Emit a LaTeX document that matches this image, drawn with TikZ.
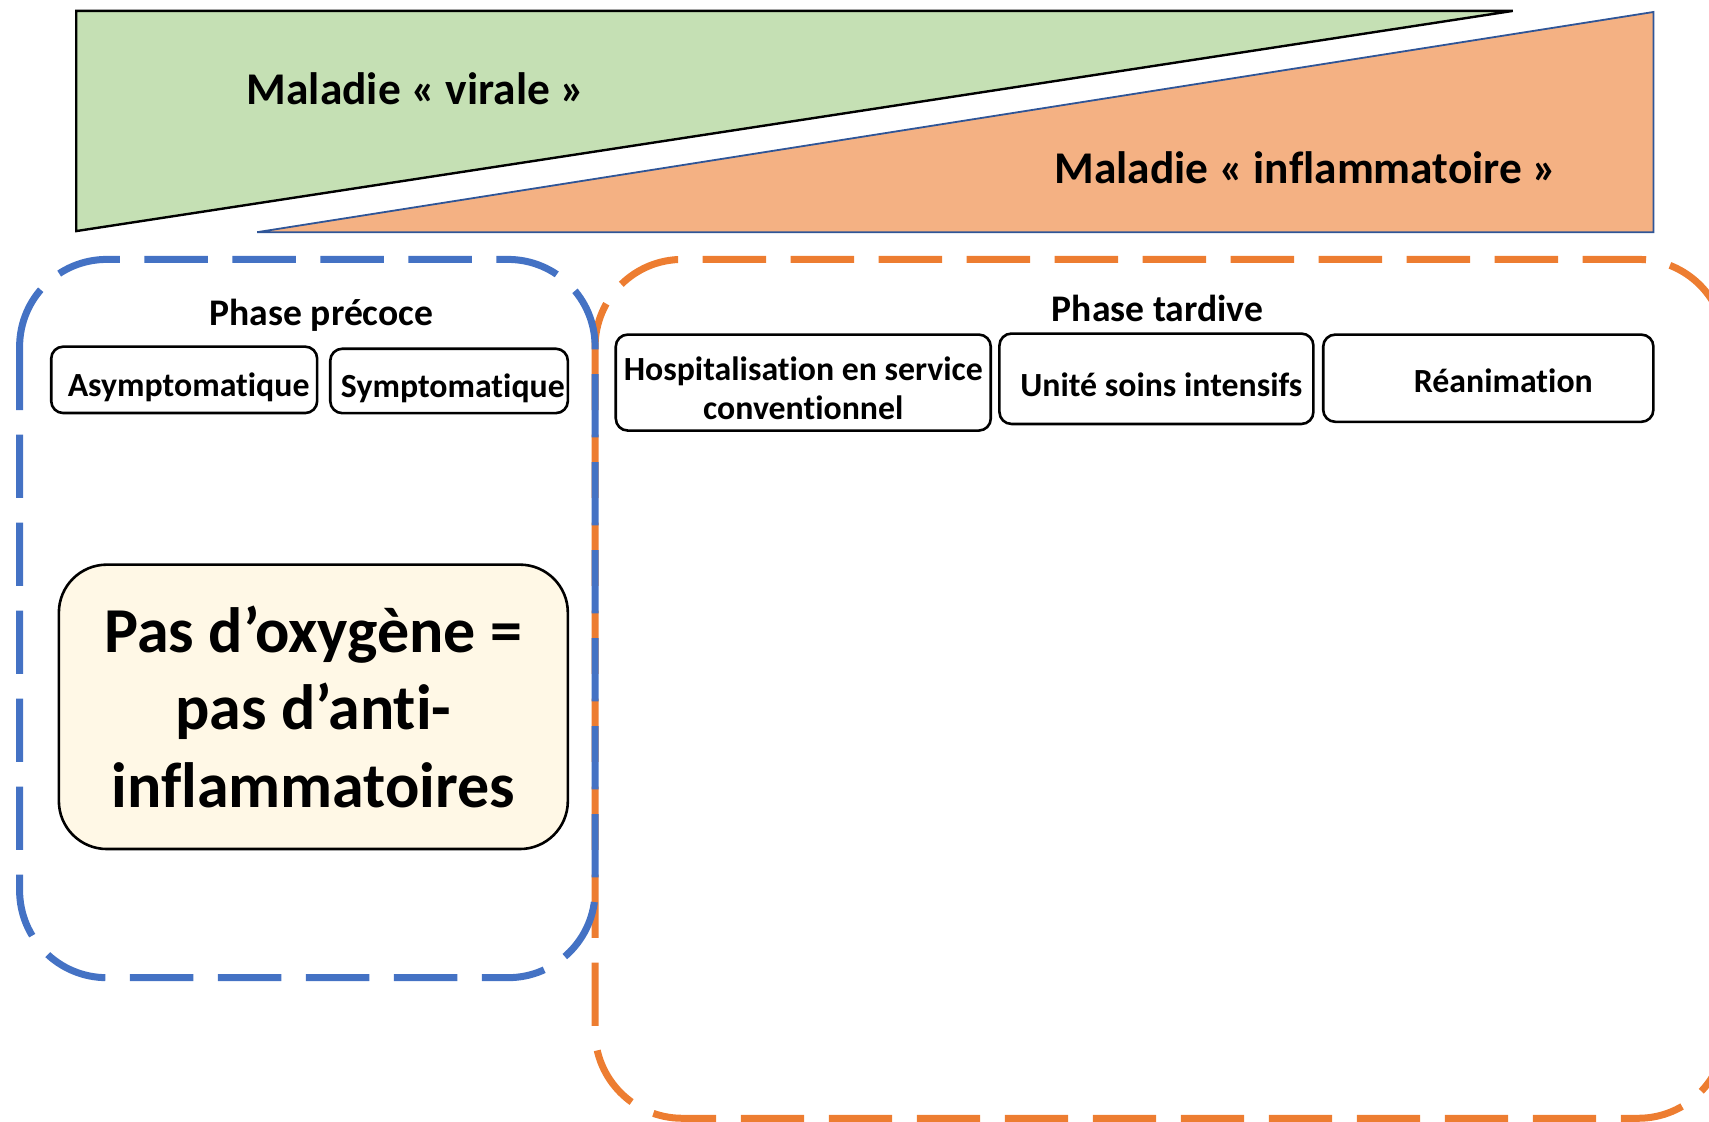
\documentclass[tikz,border=0pt]{standalone}
\usepackage{fontspec}
\setmainfont{Carlito}[Ligatures=NoCommon]
\definecolor{greenfill}{HTML}{C5E0B4}
\definecolor{orangefill}{HTML}{F4B183}
\definecolor{darkblue}{HTML}{2F5597}
\definecolor{dashblue}{HTML}{4472C4}
\definecolor{dashorange}{HTML}{ED7D31}
\definecolor{cream}{HTML}{FFF8E6}
\begin{document}
\begin{tikzpicture}[x=0.545pt,y=-0.545pt,
  title/.style={font=\fontsize{22.7}{27}\selectfont\bfseries, inner sep=0pt},
  phase/.style={font=\fontsize{18.8}{22}\selectfont\bfseries, inner sep=0pt},
  stagebox/.style={draw=black, line width=1.3pt, rounded corners=6pt, fill=white,
    inner sep=0pt, text height=17.5pt, text depth=3.5pt,
    font=\fontsize{16.9}{19.6}\selectfont\bfseries},
  bigbox/.style={draw=black, line width=1.3pt, rounded corners=24pt, fill=cream,
    align=center, inner sep=0pt, minimum width=254.5pt, minimum height=142.2pt,
    font=\fontsize{32}{38.7}\selectfont\bfseries},
  phasezone/.style={line width=3.5pt, dash pattern=on 31.7pt off 12.3pt, rounded corners=43.6pt}
]
\useasboundingbox (0,0) rectangle (1568,1029);
\clip (0,0) rectangle (1568,1029);

% wedges
\draw[fill=greenfill, draw=black, line width=1.2pt] (70,10) -- (1388,10) -- (70,212) -- cycle;
\draw[fill=orangefill, draw=darkblue, line width=0.9pt] (236,213) -- (1517,11) -- (1517,213) -- cycle;
\node[title] (viral) at (381.5,81) {Maladie «~virale~»};
\node[title] (inflam) at (1198,154) {Maladie «~inflammatoire~»};

% phase zones
\draw[phasezone, draw=dashorange] (546,238) rectangle (1583,1026);
\draw[phasezone, draw=dashblue] (18,238) rectangle (546,897);

\node[phase] (early) at (295,289) {Phase précoce};
\node[phase] (late) at (1062,283) {Phase tardive};

\node[stagebox, text height=20pt, minimum width=133pt, minimum height=33.2pt] (asym) at (169,348.5) {\hspace{4.4pt}Asymptomatique};
\node[stagebox, text height=20pt, minimum width=118.8pt, minimum height=32.2pt] (sym) at (412,349.5) {\hspace{3.8pt}Symptomatique};
\node[stagebox, align=center, text height=37pt, text depth=0pt, minimum width=187.5pt, minimum height=48pt] (hosp) at (737,351) {Hospitalisation en service\\conventionnel};
\node[stagebox, text height=21.5pt, minimum width=157pt, minimum height=45.2pt] (usi) at (1061,347.5) {\hspace{4.9pt}Unité soins intensifs};
\node[stagebox, minimum width=165.1pt, minimum height=43.6pt] (rea) at (1365.5,347) {\hspace{15pt}Réanimation};

\node[bigbox] (oxy) at (287.5,648.5) {Pas d’oxygène =\\pas d’anti-\\inflammatoires};
\end{tikzpicture}
\end{document}
